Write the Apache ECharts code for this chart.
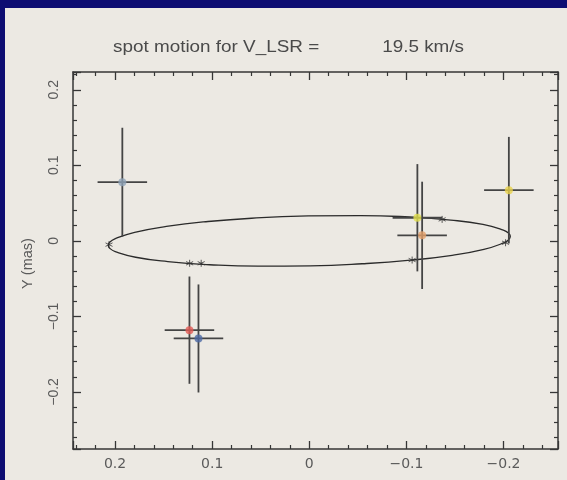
<!DOCTYPE html>
<html>
<head>
<meta charset="utf-8">
<script src="https://cdn.jsdelivr.net/npm/echarts@6/dist/echarts.min.js"></script>
<style>
  html, body { margin: 0; padding: 0; background: #0d0d72; }
  #chart {
    width: 567px; height: 480px;
    background: linear-gradient(#ece9e3, #ece9e3) 5px 8px / 562px 472px no-repeat, #0d0d72;
  }
</style>
</head>
<body>
<div id="chart"></div>
<script>
// Spot positions (mas) with their 1-sigma errors
const spotX    = [0.1925, 0.1234, 0.1141, -0.1113, -0.1162, -0.2055];
const spotY    = [0.0777, -0.1182, -0.1292, 0.0306, 0.0073, 0.0671];
const spotXErr = [0.0255, 0.0255, 0.0255, 0.0255, 0.0255, 0.0255];
const spotYErr = [0.0720, 0.0710, 0.0715, 0.0710, 0.0710, 0.0705];
const spotColors = ['#8ea3b6', '#e35a55', '#4d6aa6', '#e2e04e', '#e3a06a', '#e9d24a'];

// Model positions on the orbit, marked with asterisks
const starX = [0.2062, 0.1232, 0.1113, -0.1059, -0.1368, -0.2021];
const starY = [-0.0050, -0.0297, -0.0297, -0.0254, 0.0284, -0.0025];

// Orbit outline, traced point by point around the ring
const ellipseX = [0.0010, -0.0527, -0.1027, -0.1457, -0.1788, -0.1998, -0.2051, -0.2070, -0.2053, -0.2002,
                  -0.1798, -0.1471, -0.1043, -0.0545, -0.0010, 0.0527, 0.1027, 0.1457, 0.1788, 0.1998,
                  0.2051, 0.2070, 0.2053, 0.2002, 0.1798, 0.1471, 0.1043, 0.0545, 0.0010];
const ellipseY = [0.0330, 0.0335, 0.0316, 0.0275, 0.0217, 0.0143, 0.0103, 0.0060, 0.0016, -0.0027,
                  -0.0113, -0.0191, -0.0256, -0.0303, -0.0330, -0.0335, -0.0316, -0.0275, -0.0217, -0.0143,
                  -0.0103, -0.0060, -0.0016, 0.0027, 0.0113, 0.0191, 0.0256, 0.0303, 0.0330];

// Axis ranges (X runs from east on the left to west on the right)
const xRange = [-0.2561, 0.2433];
const yRange = [-0.2755, 0.2235];

const titleText = 'spot motion for V_LSR =            19.5 km/s';
const yName = 'Y (mas)';

const FONT = 'Liberation Sans';
const axisColor = '#363636';
const labelColor = '#5a5a5a';

function fmt(v) {
  return String(+v.toFixed(2)).replace('-', '\u2212');
}

function frameAxis(kind, position, withLabels) {
  const isY = kind === 'y';
  const range = isY ? yRange : xRange;
  const ax = {
    type: 'value',
    position: position,
    min: range[0],
    max: range[1],
    inverse: !isY,
    axisLine: { show: true, onZero: false, lineStyle: { color: axisColor, width: 1.5 } },
    axisTick: { show: true, inside: true, length: 8, lineStyle: { color: axisColor, width: 1.3 } },
    minorTick: { show: true, splitNumber: 5, length: 4, lineStyle: { color: axisColor, width: 1.2 } },
    splitLine: { show: false },
    minorSplitLine: { show: false },
    axisLabel: {
      show: withLabels,
      color: labelColor,
      fontFamily: isY ? FONT : 'DejaVu Sans',
      fontSize: 14,
      margin: isY ? 12 : 8,
      rotate: isY ? 90 : 0,
      formatter: fmt,
      showMinLabel: false,
      showMaxLabel: false
    }
  };
  if (isY && withLabels) {
    ax.name = yName;
    ax.nameLocation = 'middle';
    ax.nameGap = 38;
    ax.nameTextStyle = { color: labelColor, fontFamily: FONT, fontSize: 14.5, padding: [0, 6, 0, 0] };
  }
  return ax;
}

const chart = echarts.init(document.getElementById('chart'), null, { renderer: 'canvas' });

chart.setOption({
  animation: false,
  backgroundColor: 'transparent',
  graphic: [
    {
      type: 'text',
      x: 113,
      y: 48,
      scaleX: 1.18,
      silent: true,
      style: {
        text: titleText,
        fontFamily: FONT,
        fontSize: 16,
        fill: '#4a4a4a',
        align: 'left',
        verticalAlign: 'middle'
      }
    }
  ],
  grid: { left: 73, right: 9, top: 72, bottom: 31, containLabel: false },
  xAxis: [frameAxis('x', 'bottom', true), frameAxis('x', 'top', false)],
  yAxis: [frameAxis('y', 'left', true), frameAxis('y', 'right', false)],
  series: [
    {
      name: 'orbit',
      type: 'line',
      xAxisIndex: 0, yAxisIndex: 0,
      data: ellipseX.map((x, i) => [x, ellipseY[i]]),
      smooth: true,
      showSymbol: false,
      silent: true,
      lineStyle: { color: '#2b2b2b', width: 1.3 },
      z: 2
    },
    {
      name: 'model',
      type: 'scatter',
      xAxisIndex: 0, yAxisIndex: 0,
      data: starX.map((x, i) => [x, starY[i]]),
      symbol: 'path://M5 0L5 10M0.67 2.5L9.33 7.5M0.67 7.5L9.33 2.5',
      symbolSize: 7,
      itemStyle: { color: 'transparent', borderColor: '#333333', borderWidth: 1 },
      silent: true,
      z: 3
    },
    {
      name: 'errors',
      type: 'custom',
      xAxisIndex: 0, yAxisIndex: 0,
      data: spotX.map((x, i) => [x, spotY[i], spotXErr[i], spotYErr[i]]),
      encode: { x: 0, y: 1 },
      renderItem: function (params, api) {
        const x = api.value(0), y = api.value(1), dx = api.value(2), dy = api.value(3);
        const a = api.coord([x + dx, y]), b = api.coord([x - dx, y]);
        const c = api.coord([x, y + dy]), d = api.coord([x, y - dy]);
        const st = { stroke: '#444444', lineWidth: 1.8 };
        return {
          type: 'group',
          children: [
            { type: 'line', shape: { x1: a[0], y1: a[1], x2: b[0], y2: b[1] }, style: st },
            { type: 'line', shape: { x1: c[0], y1: c[1], x2: d[0], y2: d[1] }, style: st }
          ]
        };
      },
      silent: true,
      z: 4
    },
    {
      name: 'spots',
      type: 'scatter',
      xAxisIndex: 0, yAxisIndex: 0,
      data: spotX.map((x, i) => ({ value: [x, spotY[i]], itemStyle: { color: spotColors[i] } })),
      symbolSize: 8,
      silent: true,
      z: 5
    }
  ]
});
</script>
</body>
</html>
